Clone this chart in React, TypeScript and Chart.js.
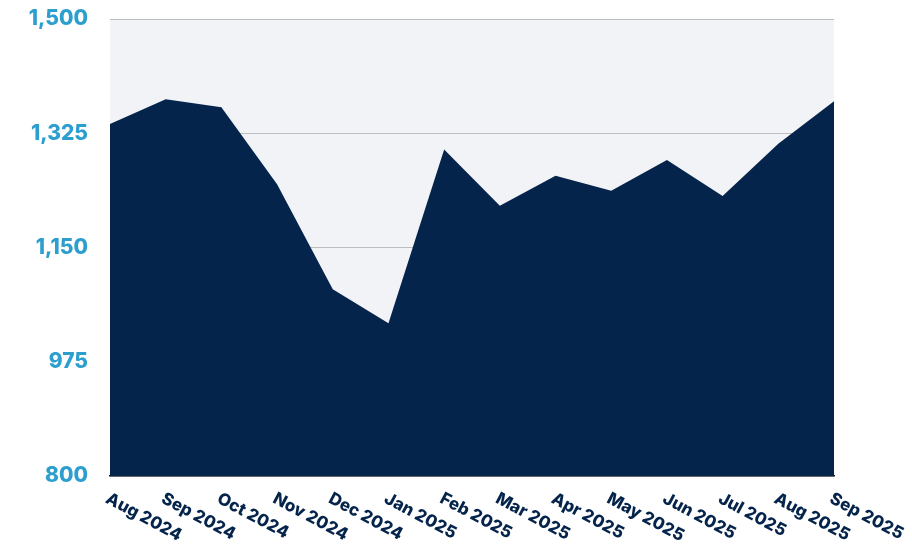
import React, { useEffect, useRef } from "react";
import { Chart, registerables } from "chart.js";

Chart.register(...registerables);

const labels: string[] = [
  "Aug 2024", "Sep 2024", "Oct 2024", "Nov 2024", "Dec 2024", "Jan 2025", "Feb 2025",
  "Mar 2025", "Apr 2025", "May 2025", "Jun 2025", "Jul 2025", "Aug 2025", "Sep 2025",
];
const values: number[] = [1339, 1377, 1365, 1247, 1086, 1034, 1300, 1214, 1260, 1237, 1284, 1229, 1309, 1374];
const yMin = 800;
const yMax = 1500;
const yStep = 175;

const NAVY = "#05244b";
const BLUE = "#2c9fcf";
const FONT = "Inter, 'Open Sans', sans-serif";

export default function App() {
  const ref = useRef<HTMLCanvasElement | null>(null);
  useEffect(() => {
    const canvas = ref.current;
    if (!canvas) return;
    const bgPlugin = {
      id: "areaBg",
      beforeDraw(chart: any) {
        const { ctx, chartArea } = chart;
        ctx.save();
        ctx.fillStyle = "#f2f3f7";
        ctx.fillRect(chartArea.left, chartArea.top, chartArea.right - chartArea.left, chartArea.bottom - chartArea.top);
        ctx.restore();
      },
    };
    const xLabelPlugin = {
      id: "xLabels",
      afterDraw(chart: any) {
        const { ctx, chartArea } = chart;
        const xs = chart.scales.x;
        ctx.save();
        ctx.fillStyle = NAVY;
        ctx.font = `800 17px ${FONT}`;
        ctx.textAlign = "left";
        ctx.textBaseline = "top";
        labels.forEach((lab, i) => {
          const x = xs.getPixelForTick(i);
          ctx.save();
          ctx.translate(x + 1, chartArea.bottom + 14);
          ctx.rotate((28 * Math.PI) / 180);
          ctx.fillText(lab, 0, 0);
          ctx.restore();
        });
        ctx.restore();
      },
    };
    const chart = new Chart(canvas, {
      type: "line",
      data: {
        labels,
        datasets: [
          {
            data: values,
            fill: "start",
            backgroundColor: NAVY,
            borderColor: NAVY,
            borderWidth: 0,
            pointRadius: 0,
            tension: 0,
          },
        ],
      },
      options: {
        animation: false,
        responsive: false,
        maintainAspectRatio: false,
        layout: { padding: { left: 0, right: 78, top: 19, bottom: 80 } },
        plugins: { legend: { display: false }, tooltip: { enabled: false } },
        scales: {
          x: {
            type: "category",
            offset: false,
            grid: { display: false },
            ticks: { display: false },
            border: { display: true, color: "#111111", width: 1.5 },
            afterFit(scale: any) {
              scale.height = 0;
              scale.paddingLeft = 0;
              scale.paddingRight = 0;
            },
          },
          y: {
            min: yMin,
            max: yMax,
            afterFit(scale: any) {
              scale.width = 110;
              scale.paddingTop = 0;
              scale.paddingBottom = 0;
            },
            ticks: {
              stepSize: yStep,
              padding: 22,
              color: BLUE,
              font: { family: FONT, size: 21, weight: "800" },
              callback: (v: any) => Number(v).toLocaleString("en-US"),
            },
            grid: { color: "#bdbdbd", lineWidth: 1, drawTicks: false },
            border: { display: false },
          },
        },
      },
      plugins: [bgPlugin, xLabelPlugin],
    });
    return () => chart.destroy();
  }, []);
  return (
    <div style={{ position: "absolute", left: 0, top: 0, width: 912, height: 556 }}>
      <canvas ref={ref} width={912} height={556} style={{ width: 912, height: 556 }} />
    </div>
  );
}
